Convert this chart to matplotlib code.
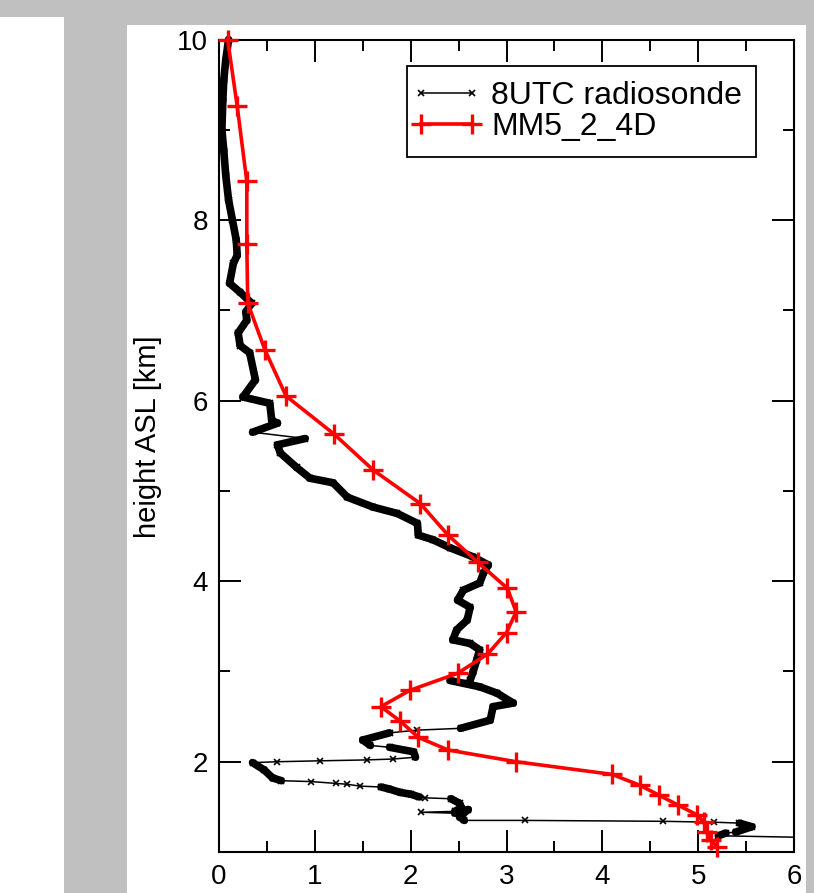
import numpy as np
import matplotlib
matplotlib.use("Agg")
import matplotlib.pyplot as plt
from matplotlib.patches import Rectangle
from matplotlib.collections import LineCollection
from matplotlib.ticker import MultipleLocator
from matplotlib.legend_handler import HandlerLine2D

plt.rcParams['font.family'] = ['Liberation Sans', 'DejaVu Sans']

# ---------------- data ----------------
sonde_label = "8UTC radiosonde"
sonde_x = [0.10, 0.07, 0.05, 0.04, 0.03, 0.05, 0.07, 0.10, 0.14, 0.18, 0.19, 0.15,
           0.11, 0.22, 0.34, 0.28, 0.29, 0.20, 0.22, 0.32, 0.38, 0.25, 0.53, 0.55,
           0.61, 0.35, 0.90, 0.61, 0.64, 0.81, 0.95, 1.19, 1.34, 1.61, 1.86, 2.07,
           2.08, 2.23, 2.41, 2.65, 2.81, 2.76, 2.72, 2.55, 2.49, 2.62, 2.59, 2.48,
           2.44, 2.62, 2.72, 2.69, 2.65, 2.62, 2.41, 2.72, 2.90, 3.07, 2.86, 2.83,
           2.52, 2.07, 1.78, 1.50, 1.58, 1.78, 2.03, 2.05, 1.82, 1.54, 1.05, 0.61,
           0.35, 0.47, 0.56, 0.65, 0.96, 1.22, 1.34, 1.47, 1.69, 1.77, 1.89, 2.00,
           2.09, 2.15, 2.42, 2.51, 2.53, 2.46, 2.11, 2.46, 2.60, 2.51, 2.56, 3.19,
           4.63, 5.17, 5.43, 5.56, 5.39, 5.29, 5.21, 6.20]
sonde_h = [10.00, 9.77, 9.55, 9.33, 9.00, 8.77, 8.50, 8.22, 8.00, 7.78, 7.61, 7.52,
           7.30, 7.20, 7.08, 6.98, 6.89, 6.75, 6.61, 6.53, 6.23, 6.04, 5.97, 5.78,
           5.75, 5.65, 5.58, 5.51, 5.42, 5.26, 5.14, 5.09, 4.93, 4.82, 4.75, 4.64,
           4.51, 4.46, 4.37, 4.27, 4.18, 4.09, 3.98, 3.90, 3.79, 3.71, 3.57, 3.46,
           3.35, 3.31, 3.24, 3.13, 2.99, 2.90, 2.90, 2.83, 2.76, 2.65, 2.61, 2.46,
           2.37, 2.35, 2.32, 2.24, 2.18, 2.16, 2.11, 2.05, 2.03, 2.02, 2.01, 2.00,
           1.99, 1.91, 1.82, 1.79, 1.78, 1.76, 1.75, 1.73, 1.72, 1.70, 1.66, 1.64,
           1.61, 1.60, 1.59, 1.54, 1.49, 1.45, 1.44, 1.43, 1.47, 1.39, 1.35, 1.35,
           1.34, 1.33, 1.32, 1.28, 1.22, 1.21, 1.18, 1.16]

mm5_label = "MM5_2_4D"
mm5_x = [0.09, 0.19, 0.29, 0.29, 0.30, 0.48, 0.70, 1.20, 1.61, 2.10, 2.39, 2.70,
         3.01, 3.10, 3.00, 2.80, 2.49, 1.99, 1.69, 1.89, 2.08, 2.39, 3.10, 4.10,
         4.39, 4.59, 4.79, 4.99, 5.06, 5.09, 5.13, 5.20]
mm5_h = [10.00, 9.26, 8.43, 7.73, 7.08, 6.56, 6.05, 5.63, 5.23, 4.86, 4.51, 4.21,
         3.92, 3.66, 3.43, 3.19, 2.98, 2.79, 2.61, 2.45, 2.27, 2.13, 2.00, 1.86,
         1.74, 1.63, 1.52, 1.41, 1.33, 1.22, 1.13, 1.06]

ylabel = "height ASL [km]"
xticks = [0, 1, 2, 3, 4, 5, 6]
yticks = [2, 4, 6, 8, 10]

# ---------------- figure ----------------
W, H = 814, 893
fig = plt.figure(figsize=(W / 100, H / 100), dpi=100, facecolor='#c0c0c0')
fig.add_artist(Rectangle((0, 0), 64 / W, (H - 17) / H, transform=fig.transFigure,
                         facecolor='white', edgecolor='none', zorder=-5))
fig.add_artist(Rectangle((127 / W, 0), (806 - 127) / W, (H - 25) / H,
                         transform=fig.transFigure, facecolor='white',
                         edgecolor='none', zorder=-5))

ax = fig.add_axes([219 / W, 1 - 852 / H, (794 - 219) / W, (852 - 39.5) / H])
ax.set_xlim(0, 6)
ax.set_ylim(1, 10)

# dense (slowly drifting) parts of the sounding appear as a thick band
pts = ax.transData.transform(np.column_stack([sonde_x, sonde_h]))
segs = []
for i in range(len(pts) - 1):
    dx = abs(pts[i + 1, 0] - pts[i, 0])
    dy = abs(pts[i + 1, 1] - pts[i, 1])
    if dx <= 6 * dy:
        segs.append([(sonde_x[i], sonde_h[i]), (sonde_x[i + 1], sonde_h[i + 1])])
lc = LineCollection(segs, colors='black', linewidths=5.5, capstyle='round',
                    joinstyle='round', zorder=2, clip_on=False)
ax.add_collection(lc)

ax.plot(sonde_x, sonde_h, color='black', lw=1.1, marker='x', ms=4, mew=1.2,
        label=sonde_label, zorder=3, clip_on=True)
ax.plot(mm5_x, mm5_h, color='red', lw=2.6, marker='+', ms=15, mew=2.4,
        label=mm5_label, zorder=4, clip_on=False)

ax.set_xticks(xticks)
ax.set_yticks(yticks)
ax.xaxis.set_minor_locator(MultipleLocator(0.5))
ax.yaxis.set_minor_locator(MultipleLocator(1))
ax.tick_params(which='both', direction='in', top=True, right=True, width=1.4,
               color='black')
ax.tick_params(which='major', length=16)
ax.tick_params(which='minor', length=8)
ax.tick_params(axis='x', which='major', labelsize=20, pad=9)
ax.tick_params(axis='y', which='major', labelsize=20, pad=8)
for sp in ax.spines.values():
    sp.set_linewidth(1.5)

ax.set_ylabel(ylabel, fontsize=21)
ax.yaxis.set_label_coords(-0.099, 0.511)

leg = ax.legend(loc='center', bbox_to_anchor=(581.5 / W, 1 - 111.5 / H),
                bbox_transform=fig.transFigure, fontsize=23, frameon=True,
                fancybox=False, edgecolor='black', framealpha=1,
                handlelength=1.6, handletextpad=0.6, borderpad=0.45,
                labelspacing=0.05, numpoints=2,
                handler_map={plt.Line2D: HandlerLine2D(marker_pad=0)})
leg.get_frame().set_linewidth(1.3)
for h in leg.legend_handles:
    if h.get_color() == 'black':
        h.set_markersize(4)

fig.savefig("out.png", dpi=100, facecolor=fig.get_facecolor())
